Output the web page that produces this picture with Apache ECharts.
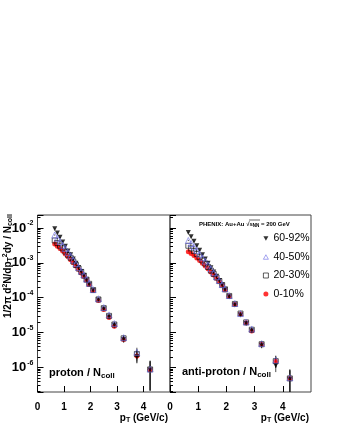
<!DOCTYPE html>
<html>
<head>
<meta charset="utf-8">
<script src="https://cdn.jsdelivr.net/npm/echarts@6/dist/echarts.min.js"></script>
<style>
  html, body { margin: 0; padding: 0; background: #fff; }
  #main { width: 340px; height: 440px; }
</style>
</head>
<body>
<div id="main"></div>
<script>
// pT bin centres (GeV/c)
var pt = [0.65, 0.75, 0.85, 0.95, 1.05, 1.15, 1.25, 1.35, 1.45, 1.55, 1.65, 1.75, 1.85, 1.95,
          2.1, 2.3, 2.5, 2.7, 2.9, 3.25, 3.75, 4.25];
var centralities = ["60-92%", "40-50%", "20-30%", "0-10%"];

// proton / Ncoll
var p6092 = [9.5e-3, 7.2e-3, 5.4e-3, 4.0e-3, 3.0e-3, 2.2e-3, 1.7e-3, 1.3e-3, 9.8e-4, 7.4e-4, 5.6e-4, 4.3e-4, 3.2e-4, 2.4e-4,
             1.6e-4, 8.5e-5, 4.7e-5, 2.8e-5, 1.6e-5, 6.3e-6, 2.0e-6, 8.3e-7];
var p4050 = [6.3e-3, 5.1e-3, 4.1e-3, 3.2e-3, 2.6e-3, 2.0e-3, 1.6e-3, 1.2e-3, 9.5e-4, 7.4e-4, 5.8e-4, 4.5e-4, 3.4e-4, 2.6e-4,
             1.7e-4, 9.3e-5, 5.2e-5, 3.2e-5, 1.8e-5, 7.1e-6, 2.7e-6, 8.9e-7];
var p2030 = [4.4e-3, 3.7e-3, 3.1e-3, 2.6e-3, 2.1e-3, 1.7e-3, 1.4e-3, 1.1e-3, 8.7e-4, 6.9e-4, 5.5e-4, 4.3e-4, 3.3e-4, 2.5e-4,
             1.66e-4, 8.9e-5, 5.0e-5, 3.0e-5, 1.7e-5, 6.8e-6, 2.4e-6, 8.7e-7];
var p0010 = [3.5e-3, 3.0e-3, 2.6e-3, 2.2e-3, 1.8e-3, 1.5e-3, 1.23e-3, 1.0e-3, 8.1e-4, 6.5e-4, 5.1e-4, 4.1e-4, 3.2e-4, 2.4e-4,
             1.6e-4, 8.3e-5, 4.6e-5, 2.7e-5, 1.5e-5, 6.3e-6, 2.1e-6, 8.5e-7];

// anti-proton / Ncoll
var pb6092 = [7.4e-3, 5.6e-3, 4.2e-3, 3.1e-3, 2.3e-3, 1.7e-3, 1.3e-3, 9.8e-4, 7.2e-4, 5.5e-4, 4.1e-4, 3.1e-4, 2.3e-4, 1.7e-4,
              1.07e-4, 6.2e-5, 3.2e-5, 1.8e-5, 1.12e-5, 4.3e-6, 1.12e-6, 4.5e-7];
var pb4050 = [4.4e-3, 3.6e-3, 2.9e-3, 2.3e-3, 1.8e-3, 1.4e-3, 1.12e-3, 8.7e-4, 6.8e-4, 5.2e-4, 4.0e-4, 3.1e-4, 2.4e-4, 1.8e-4,
              1.15e-4, 6.8e-5, 3.5e-5, 2.0e-5, 1.26e-5, 4.8e-6, 1.6e-6, 5.0e-7];
var pb2030 = [3.1e-3, 2.6e-3, 2.2e-3, 1.8e-3, 1.45e-3, 1.17e-3, 9.5e-4, 7.6e-4, 6.0e-4, 4.8e-4, 3.8e-4, 3.0e-4, 2.3e-4, 1.74e-4,
              1.12e-4, 6.6e-5, 3.5e-5, 1.95e-5, 1.2e-5, 4.6e-6, 1.5e-6, 4.8e-7];
var pb0010 = [2.1e-3, 1.86e-3, 1.62e-3, 1.38e-3, 1.17e-3, 9.8e-4, 8.1e-4, 6.8e-4, 5.5e-4, 4.5e-4, 3.6e-4, 2.9e-4, 2.3e-4, 1.7e-4,
              1.1e-4, 6.5e-5, 3.4e-5, 1.9e-5, 1.1e-5, 4.6e-6, 1.5e-6, 4.8e-7];

// relative uncertainty per pT bin
var relErr = [0.04, 0.04, 0.04, 0.04, 0.04, 0.04, 0.04, 0.04, 0.04, 0.04, 0.04, 0.04, 0.04, 0.04,
              0.05, 0.06, 0.08, 0.1, 0.12, 0.18, 0.35, 0.75];

var xTicks = [0, 1, 2, 3, 4];
var yMin = 1.95e-7, yMax = 0.0237;

var FONT = "Liberation Sans";
var DOWN = "path://M0,0L10,0L5,9Z";
var UP = "path://M5,0L10,9L0,9Z";
var styles = [
  { symbol: DOWN, size: [5, 5], item: { color: "#000" } },
  { symbol: UP, size: [6, 6], item: { color: "rgba(0,0,0,0)", borderColor: "#6f6fe6", borderWidth: 0.8 } },
  { symbol: "rect", size: [5, 5], item: { color: "rgba(0,0,0,0)", borderColor: "#000", borderWidth: 0.8 } },
  { symbol: "circle", size: [5, 5], item: { color: "#ff0000" } },
];

function pairs(vals) {
  return vals.map(function (v, i) { return [pt[i], v]; });
}

function errData(sets) {
  var out = [];
  sets.forEach(function (vals) {
    vals.forEach(function (v, i) {
      out.push([pt[i], Math.max(v * (1 - relErr[i]), yMin), Math.min(v * (1 + relErr[i]), yMax)]);
    });
  });
  return out;
}

function errSeries(sets, idx) {
  return {
    type: "custom",
    xAxisIndex: idx, yAxisIndex: idx,
    silent: true, z: 1,
    data: errData(sets),
    renderItem: function (params, api) {
      var a = api.coord([api.value(0), api.value(1)]);
      var b = api.coord([api.value(0), api.value(2)]);
      return { type: "line", shape: { x1: a[0], y1: a[1], x2: b[0], y2: b[1] },
               style: { stroke: "#222", lineWidth: 0.8 } };
    },
  };
}

function panelSeries(sets, idx) {
  var list = [errSeries(sets, idx)];
  // draw order: 0-10%, 60-92%, 20-30%, 40-50%
  [3, 0, 2, 1].forEach(function (k) {
    var s = styles[k];
    list.push({
      name: centralities[k], type: "scatter",
      xAxisIndex: idx, yAxisIndex: idx, z: 2,
      symbol: s.symbol, symbolSize: s.size,
      itemStyle: s.item,
      data: pairs(sets[k]),
    });
  });
  return list;
}

function yLabel(v) {
  var e = Math.log10(v);
  if (Math.abs(e - Math.round(e)) > 1e-6) return "";
  return "{b|10}{s|" + Math.round(e) + "}";
}

function xAxisFor(idx) {
  return {
    type: "value", gridIndex: idx, min: 0, max: 5, interval: 1,
    axisLine: { show: false },
    axisTick: { inside: true, length: 6, lineStyle: { color: "#000" } },
    splitLine: { show: false },
    axisLabel: {
      margin: 10, showMaxLabel: false, color: "#000",
      fontFamily: FONT, fontWeight: "bold", fontSize: 10,
      formatter: function (v) { return xTicks.indexOf(v) >= 0 ? String(v) : ""; },
    },
  };
}

function yAxisFor(idx) {
  return {
    type: "log", gridIndex: idx, min: yMin, max: yMax, splitNumber: 5,
    axisLine: { show: false },
    axisTick: { inside: true, length: 6, lineStyle: { color: "#000" } },
    minorTick: { show: true, splitNumber: 9, length: 3, lineStyle: { color: "#000" } },
    splitLine: { show: false },
    axisLabel: {
      show: idx === 0, margin: 4, color: "#000", formatter: yLabel,
      rich: {
        b: { fontFamily: FONT, fontWeight: "bold", fontSize: 13, color: "#000" },
        s: { fontFamily: FONT, fontWeight: "bold", fontSize: 7, color: "#000", padding: [0, 0, 9, 1] },
      },
    },
  };
}

var sub = { fontFamily: FONT, fontWeight: "bold", fontSize: 7, color: "#000", padding: [4, 0, 0, 0] };
var sup = { fontFamily: FONT, fontWeight: "bold", fontSize: 7, color: "#000", padding: [0, 0, 5, 0] };

var myChart = echarts.init(document.getElementById("main"));

option = {
  animation: false,
  backgroundColor: "#fff",
  textStyle: { fontFamily: FONT },
  grid: [
    { left: 37.5, top: 215, width: 132.5, height: 177, show: true, borderColor: "#444", borderWidth: 1, backgroundColor: "transparent" },
    { left: 170, top: 215, width: 141, height: 177, show: true, borderColor: "#444", borderWidth: 1, backgroundColor: "transparent" },
  ],
  xAxis: [xAxisFor(0), xAxisFor(1)],
  yAxis: [yAxisFor(0), yAxisFor(1)],
  legend: {
    data: centralities.map(function (c, k) {
      return { name: c, icon: styles[k].symbol, itemStyle: styles[k].item };
    }),
    orient: "vertical", left: 258, top: 228,
    itemWidth: 5, itemHeight: 5, itemGap: 7.5,
    textStyle: { fontFamily: FONT, fontSize: 10.5, color: "#000" },
  },
  graphic: [
    { type: "text", x: 8, y: 266, rotation: Math.PI / 2,
      style: { text: "1/2π d{sup|2}N/dp{sub|T}{sup|2}dy / N{sub|coll}", align: "center", verticalAlign: "middle",
               fontFamily: FONT, fontWeight: "bold", fontSize: 10, fill: "#000", rich: { sub: sub, sup: sup } } },
    { type: "text", x: 199, y: 224,
      style: { text: "PHENIX: Au+Au √s{n|NN} = 200 GeV", verticalAlign: "middle",
               fontFamily: FONT, fontWeight: "bold", fontSize: 6, fill: "#000",
               rich: { n: { fontFamily: FONT, fontWeight: "bold", fontSize: 4.5, padding: [3, 0, 0, 0] } } } },
    { type: "line", shape: { x1: 249, y1: 220, x2: 260, y2: 220 }, style: { stroke: "#000", lineWidth: 0.6 } },
    { type: "text", x: 49, y: 373,
      style: { text: "proton / N{sub|coll}", verticalAlign: "middle", fontFamily: FONT, fontWeight: "bold", fontSize: 11, fill: "#000",
               rich: { sub: { fontFamily: FONT, fontWeight: "bold", fontSize: 8, padding: [5, 0, 0, 0] } } } },
    { type: "text", x: 182, y: 372,
      style: { text: "anti-proton / N{sub|coll}", verticalAlign: "middle", fontFamily: FONT, fontWeight: "bold", fontSize: 11, fill: "#000",
               rich: { sub: { fontFamily: FONT, fontWeight: "bold", fontSize: 8, padding: [5, 0, 0, 0] } } } },
    { type: "text", x: 168, y: 418,
      style: { text: "p{sub|T} (GeV/c)", align: "right", verticalAlign: "middle", fontFamily: FONT, fontWeight: "bold", fontSize: 10, fill: "#000",
               rich: { sub: { fontFamily: FONT, fontWeight: "bold", fontSize: 7, padding: [4, 0, 0, 0] } } } },
    { type: "text", x: 309, y: 418,
      style: { text: "p{sub|T} (GeV/c)", align: "right", verticalAlign: "middle", fontFamily: FONT, fontWeight: "bold", fontSize: 10, fill: "#000",
               rich: { sub: { fontFamily: FONT, fontWeight: "bold", fontSize: 7, padding: [4, 0, 0, 0] } } } },
  ],
  series: panelSeries([p6092, p4050, p2030, p0010], 0)
    .concat(panelSeries([pb6092, pb4050, pb2030, pb0010], 1)),
};

myChart.setOption(option);
</script>
</body>
</html>
